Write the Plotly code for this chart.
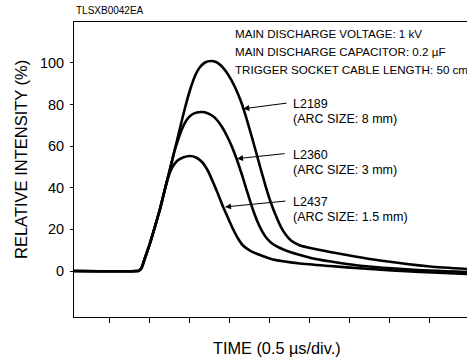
import plotly.graph_objects as go

# Time in microseconds (0.5 us per division), relative intensity in percent
t_l2189 = [0.059, 0.846, 0.871, 0.9025, 0.946, 1.009, 1.071, 1.134, 1.196, 1.259, 1.321,
           1.384, 1.446, 1.509, 1.571, 1.634, 1.696, 1.771, 1.834, 1.896, 1.959, 2.021,
           2.084, 2.146, 2.209, 2.271, 2.334, 2.396, 2.459, 2.521, 2.584, 2.646, 2.709,
           2.771, 2.884, 3.071, 3.259, 3.571, 3.884, 4.509, 4.971]
i_l2189 = [0.0, 0.0, 0.24, 1.44, 6.25, 13.46, 21.39, 29.81, 39.42, 49.04, 58.65,
           68.75, 78.37, 87.02, 93.75, 98.08, 100.24, 100.96, 100.48, 98.80, 95.91, 92.07,
           87.26, 81.49, 74.04, 65.87, 57.21, 48.56, 40.14, 32.69, 26.44, 21.15, 17.31,
           14.66, 12.26, 10.58, 9.13, 6.97, 5.05, 2.16, 0.96]

t_l2360 = [0.059, 0.846, 0.871, 0.9025, 0.946, 1.009, 1.071, 1.134, 1.196, 1.259, 1.321,
           1.359, 1.409, 1.471, 1.534, 1.596, 1.659, 1.721, 1.784, 1.846, 1.909, 1.971,
           2.034, 2.096, 2.159, 2.221, 2.284, 2.346, 2.409, 2.471, 2.534, 2.634, 2.759,
           2.884, 3.046, 3.384, 3.671, 4.259, 4.971]
i_l2360 = [0.0, 0.0, 0.24, 1.44, 6.25, 13.46, 21.39, 29.81, 39.42, 49.04, 58.65,
           62.98, 68.27, 72.84, 75.24, 76.20, 76.44, 75.96, 74.76, 72.60, 69.23, 64.90,
           59.62, 53.37, 46.15, 38.46, 30.77, 24.28, 19.23, 15.63, 13.22, 11.06, 9.13,
           7.69, 6.01, 3.85, 2.40, 0.72, -0.48]

t_l2437 = [0.059, 0.846, 0.871, 0.9025, 0.946, 1.009, 1.071, 1.134, 1.196, 1.234, 1.284,
           1.346, 1.421, 1.509, 1.584, 1.659, 1.734, 1.796, 1.859, 1.921, 1.984, 2.046,
           2.109, 2.171, 2.259, 2.384, 2.546, 2.884, 3.259, 3.671, 4.384, 4.971]
i_l2437 = [0.0, 0.0, 0.24, 1.44, 6.25, 13.46, 21.39, 29.81, 39.42, 44.71, 49.52,
           52.88, 54.57, 55.29, 54.57, 52.40, 48.08, 42.79, 37.02, 31.01, 25.48, 20.19,
           15.63, 12.26, 9.86, 7.69, 5.53, 3.61, 2.40, 1.20, -0.48, -1.44]

lamp_names = ["L2189", "L2360", "L2437"]
arc_sizes = ["8 mm", "3 mm", "1.5 mm"]

y_ticks = [0, 20, 40, 60, 80, 100]
x_ticks = [0.5, 1.0, 1.5, 2.0, 2.5, 3.0, 3.5, 4.0, 4.5]

conditions = [
    "MAIN DISCHARGE VOLTAGE: 1 kV",
    "MAIN DISCHARGE CAPACITOR: 0.2 \u00b5F",
    "TRIGGER SOCKET CABLE LENGTH: 50 cm",
]

FONT = "Liberation Sans, Arial, Helvetica, sans-serif"

fig = go.Figure()
for t, i in [(t_l2189, i_l2189), (t_l2360, i_l2360), (t_l2437, i_l2437)]:
    fig.add_trace(go.Scatter(
        x=t, y=i, mode="lines",
        line=dict(color="black", width=2.6, shape="spline", smoothing=0.6),
        showlegend=False, hoverinfo="skip",
    ))

# Leader lines: tip on curve, tail near label; label block top-line position
leaders = [
    ((2.175, 78.0), (2.734, 80.8), (2.771, 80.3)),
    ((2.096, 54.0), (2.709, 56.5), (2.771, 56.0)),
    ((1.946, 30.8), (2.721, 33.7), (2.771, 33.3)),
]
LINE_GAP = 7.4  # second label line offset, in percent units
for (tip, tail, lab), name, arc in zip(leaders, lamp_names, arc_sizes):
    fig.add_annotation(
        x=tip[0], y=tip[1], ax=tail[0], ay=tail[1],
        xref="x", yref="y", axref="x", ayref="y",
        text="", showarrow=True, arrowhead=2, arrowsize=1.2,
        arrowwidth=1, arrowcolor="black", standoff=0,
    )
    for k, txt in enumerate([name, f"(ARC SIZE: {arc})"]):
        fig.add_annotation(
            x=lab[0], y=lab[1] - k * LINE_GAP, xref="x", yref="y",
            text=txt, showarrow=False, xanchor="left", yanchor="middle",
            font=dict(family=FONT, size=12.5, color="black"),
        )

for k, line in enumerate(conditions):
    fig.add_annotation(
        x=0.4046, y=0.9627 - k * 0.0627, xref="paper", yref="paper",
        text=line, showarrow=False, xanchor="left", yanchor="middle",
        font=dict(family=FONT, size=11.6, color="black"),
    )

fig.add_annotation(
    x=0.0, y=1.0, xref="paper", yref="paper", yshift=12,
    text="TLSXB0042EA", showarrow=False, xanchor="left", yanchor="middle",
    font=dict(family=FONT, size=10, color="black"),
)
fig.add_annotation(
    x=(276.5 - 74) / 393, y=0, xref="paper", yref="paper", yshift=-31,
    text="TIME (0.5 \u00b5s/div.)", showarrow=False, xanchor="center", yanchor="middle",
    font=dict(family=FONT, size=16.3, color="black"),
)
fig.add_annotation(
    x=0, y=(317 - 160) / 295, xref="paper", yref="paper", xshift=-53,
    text="RELATIVE INTENSITY (%)", showarrow=False, textangle=-90,
    xanchor="center", yanchor="middle",
    font=dict(family=FONT, size=16.5, color="black"),
)

fig.update_layout(
    width=467, height=360,
    margin=dict(l=74, r=0, t=22, b=43),
    paper_bgcolor="white", plot_bgcolor="white",
    font=dict(family=FONT, color="black"),
    xaxis=dict(
        range=[0.0588, 4.971], tickvals=x_ticks, showticklabels=False,
        ticks="outside", ticklen=5, tickwidth=1, tickcolor="black",
        showline=True, linecolor="black", linewidth=1, mirror=True,
        showgrid=False, zeroline=False,
    ),
    yaxis=dict(
        range=[-22.1, 119.7], tickvals=y_ticks,
        ticks="outside", ticklen=3, tickwidth=1, tickcolor="black",
        showline=True, linecolor="black", linewidth=1,
        showgrid=False, zeroline=False, ticklabelstandoff=3,
        tickfont=dict(family=FONT, size=14.5, color="black"),
    ),
)

fig.write_html("out.html")
